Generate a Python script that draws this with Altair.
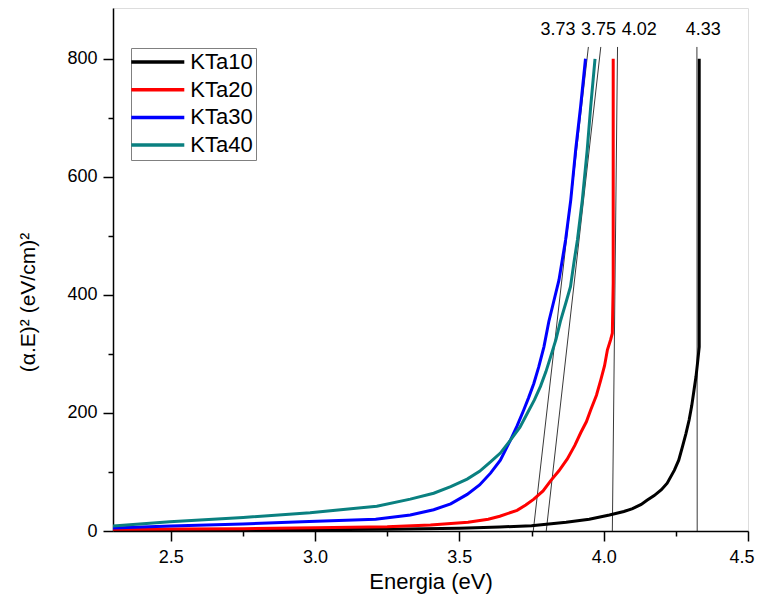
import altair as alt
import pandas as pd

# ---- data ----
series_names = ["KTa10", "KTa20", "KTa30", "KTa40"]
series_colors = ["#000000", "#FF0000", "#0000FF", "#0A8080"]

kta10_e = [2.30, 2.50, 2.75, 3.00, 3.25, 3.50, 3.64, 3.75, 3.87, 3.95, 4.02, 4.07, 4.10, 4.13, 4.15, 4.175,
           4.20, 4.22, 4.245, 4.26, 4.273, 4.285, 4.296, 4.305, 4.313, 4.32, 4.325, 4.331, 4.331]
kta10_v = [1.0, 1.2, 1.6, 2.2, 3.0, 4.5, 6.8, 9.0, 15.0, 20.0, 27.0, 33.0, 38.0, 45.0, 52.0, 60.0,
           70.0, 81.0, 103.0, 120.0, 143.0, 165.0, 188.0, 212.0, 239.0, 262.0, 284.0, 312.0, 800.0]

kta20_e = [2.30, 2.50, 2.75, 3.00, 3.25, 3.40, 3.53, 3.60, 3.64, 3.70, 3.73, 3.758, 3.79, 3.816, 3.845,
           3.874, 3.90, 3.92, 3.94, 3.955, 3.975, 3.99, 4.003, 4.013, 4.024, 4.030, 4.033, 4.033]
kta20_v = [2.8, 3.2, 4.0, 5.5, 7.0, 10.0, 15.0, 20.0, 25.0, 35.0, 44.0, 54.0, 68.0, 85.0, 102.0,
           122.0, 145.0, 166.0, 185.0, 205.0, 230.0, 256.0, 280.0, 307.0, 324.0, 335.0, 420.0, 800.0]

kta30_e = [2.30, 2.50, 2.75, 2.98, 3.21, 3.33, 3.411, 3.47, 3.527, 3.57, 3.608, 3.642, 3.677, 3.70, 3.723,
           3.74, 3.758, 3.775, 3.793, 3.81, 3.825, 3.845, 3.868, 3.886, 3.903, 3.920, 3.937]
kta30_v = [5.0, 8.5, 12.0, 16.0, 20.0, 27.0, 36.0, 46.0, 62.0, 78.0, 98.0, 120.0, 154.0, 178.0, 205.0,
           226.0, 250.0, 278.0, 312.0, 355.0, 385.0, 425.0, 493.0, 561.0, 646.0, 719.0, 800.0]

kta40_e = [2.30, 2.497, 2.751, 2.983, 3.214, 3.33, 3.411, 3.47, 3.527, 3.57, 3.608, 3.642, 3.677, 3.71,
           3.735, 3.76, 3.781, 3.80, 3.816, 3.835, 3.85, 3.868, 3.885, 3.897, 3.909, 3.926, 3.943, 3.955, 3.970]
kta40_v = [8.5, 15.8, 23.0, 31.0, 42.0, 54.0, 64.0, 75.0, 88.0, 101.0, 117.0, 132.0, 154.0, 176.0,
           199.0, 222.0, 245.0, 270.0, 295.0, 325.0, 355.0, 385.0, 414.0, 455.0, 493.0, 561.0, 646.0, 719.0, 800.0]

# tangent (extrapolation) lines: energy at y=0 and at the top end
tangent_e0 = [3.756, 3.801, 4.030, 4.324]
tangent_e1 = [3.947, 3.990, 4.048, 4.323]
tangent_v0 = [0, 0, 0, 0]
tangent_v1 = [820, 820, 820, 820]

# band-gap annotations
gap_labels = ["3.73", "3.75", "4.02", "4.33"]
gap_label_e = [3.842, 3.982, 4.123, 4.345]
gap_label_v = [849, 849, 849, 849]

x_ticks = [2.5, 2.75, 3.0, 3.25, 3.5, 3.75, 4.0, 4.25, 4.5]
y_ticks = [0, 100, 200, 300, 400, 500, 600, 700, 800]

# ---- build tables ----
rows = []
for name, es, vs in zip(series_names, [kta10_e, kta20_e, kta30_e, kta40_e],
                        [kta10_v, kta20_v, kta30_v, kta40_v]):
    for i, (e, v) in enumerate(zip(es, vs)):
        rows.append({"series": name, "E": e, "V": v, "order": i})
curves = pd.DataFrame(rows)

tangents = pd.DataFrame({"e0": tangent_e0, "e1": tangent_e1,
                         "v0": tangent_v0, "v1": tangent_v1})
labels = pd.DataFrame({"label": gap_labels, "E": gap_label_e, "V": gap_label_v})

FONT = "Liberation Sans"

x_scale = alt.Scale(domain=[2.3, 4.5], nice=False, zero=False)
y_scale = alt.Scale(domain=[0, 886], nice=False, zero=False)

x_axis = alt.Axis(
    values=x_ticks,
    labelExpr="abs(datum.value*2 - round(datum.value*2)) < 0.01 ? format(datum.value, '.1f') : ''",
    tickSize={"condition": {"test": "abs(datum.value*2 - round(datum.value*2)) < 0.01", "value": 10}, "value": 5},
    title="Energia (eV)",
    titleFontSize=22, titleFont=FONT, titleFontWeight="normal", titleColor="black",
    titleY=57, titleBaseline="alphabetic",
    labelFontSize=18, labelFont=FONT, labelColor="black", labelPadding=7,
    labelFlush=True, labelFlushOffset=6, labelOverlap=False,
    domainColor="black", domainWidth=1.5, tickColor="black", tickWidth=1.5,
    grid=False,
)
y_axis = alt.Axis(
    values=y_ticks,
    labelExpr="datum.value % 200 === 0 ? format(datum.value, 'd') : ''",
    tickSize={"condition": {"test": "datum.value % 200 === 0", "value": 10}, "value": 5},
    title="(α.E)² (eV/cm)²",
    titleFontSize=21, titleFont=FONT, titleFontWeight="normal", titleColor="black",
    titleX=-85, titleY=294, titleAngle=270, titleAlign="center", titleBaseline="middle",
    labelFontSize=18, labelFont=FONT, labelColor="black", labelPadding=6,
    labelFlush=False, labelOverlap=False,
    domainColor="black", domainWidth=1.5, tickColor="black", tickWidth=1.5,
    grid=False,
)

lines = alt.Chart(curves).mark_line(strokeWidth=3, clip=True).encode(
    x=alt.X("E:Q", scale=x_scale, axis=x_axis),
    y=alt.Y("V:Q", scale=y_scale, axis=y_axis),
    color=alt.Color(
        "series:N",
        scale=alt.Scale(domain=series_names, range=series_colors),
        legend=alt.Legend(
            title=None, orient="none", legendX=18, legendY=40,
            symbolType="M-5.3,0H5.3", symbolSize=100, symbolStrokeWidth=3.5,
            symbolOffset=12.8,
            labelFontSize=22, labelFont=FONT, labelColor="black", labelOffset=21.5,
            rowPadding=5.7, padding=3, strokeColor="#808080", fillColor="white",
        ),
    ),
    order="order:Q",
)

tang = alt.Chart(tangents).mark_rule(color="#222222", strokeWidth=0.9, clip=True).encode(
    x=alt.X("e0:Q", scale=x_scale),
    x2="e1:Q",
    y=alt.Y("v0:Q", scale=y_scale),
    y2="v1:Q",
)

texts = alt.Chart(labels).mark_text(fontSize=18, font=FONT, color="black",
                                    align="center", baseline="middle").encode(
    x=alt.X("E:Q", scale=x_scale),
    y=alt.Y("V:Q", scale=y_scale),
    text="label:N",
)

chart = alt.layer(tang, lines, texts).properties(
    width=635, height=523,
    autosize=alt.AutoSizeParams(type="none"),
    padding={"left": 105, "top": 0, "right": 7, "bottom": 64},
).configure_view(
    stroke="black", strokeWidth=1.5
).configure(background="white")

chart.save("out.html", embed_options={"renderer": "svg", "actions": False})
